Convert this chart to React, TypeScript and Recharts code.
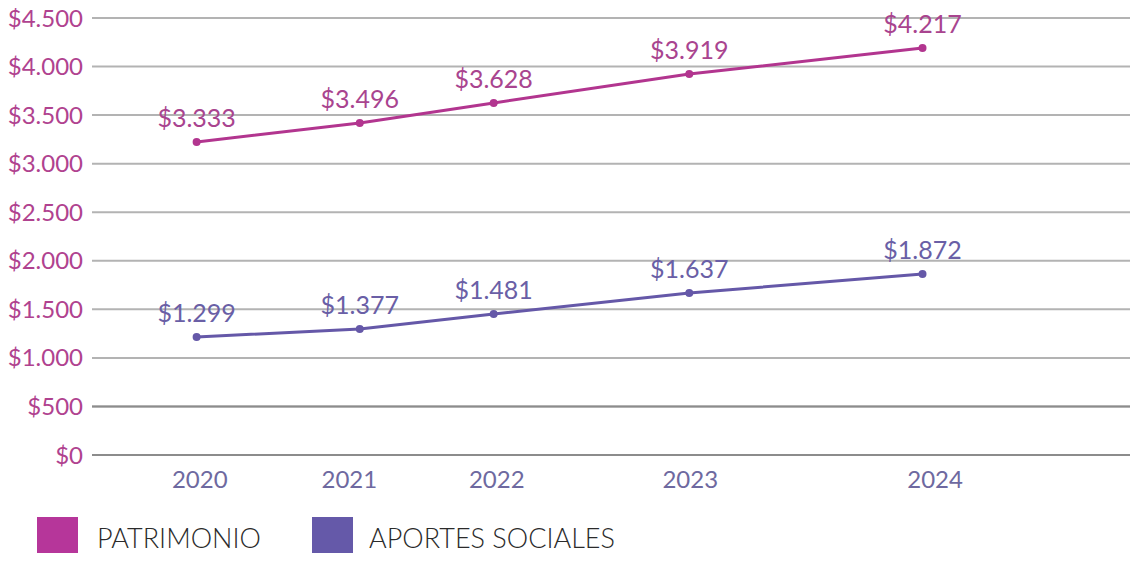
import React from 'react'
import { LineChart, Line, XAxis, YAxis, CartesianGrid, Legend, LabelList, ReferenceLine } from 'recharts'

// years and where each one sits along the axis (percent of plot width)
const years = ['2020', '2021', '2022', '2023', '2024']
const pointPos = [10.0, 25.6, 38.4, 57.1, 79.4]
const tickPos = [10.3, 24.6, 38.7, 57.2, 80.6]

// plotted values and the printed labels
const patrimonio = [3223, 3419, 3625, 3923, 4191]
const aportes = [1215, 1297, 1452, 1668, 1864]
const patrimonioLabels = ['$3.333', '$3.496', '$3.628', '$3.919', '$4.217']
const aportesLabels = ['$1.299', '$1.377', '$1.481', '$1.637', '$1.872']

const yTicks = [0, 500, 1000, 1500, 2000, 2500, 3000, 3500, 4000, 4500]

const MAGENTA = '#b2358f'
const PURPLE = '#6558a8'
const FONT = 'Lato, "Open Sans", sans-serif'

const data = years.map((year, i) => ({
  year,
  pos: pointPos[i],
  patrimonio: patrimonio[i],
  aportes: aportes[i],
}))

const makeLabel = (labels: string[], color: string) => (props: any) => {
  const { x, y, index } = props
  return (
    <text x={x} y={y - 15} textAnchor="middle" fill={color} fontSize={25} fontFamily={FONT}>
      {labels[index]}
    </text>
  )
}

const LegendBox = () => (
  <div style={{ height: 60, position: 'relative', fontFamily: FONT }}>
    {[
      { name: 'PATRIMONIO', color: '#b6369a', left: 37, textLeft: 97 },
      { name: 'APORTES SOCIALES', color: '#6559a9', left: 312, textLeft: 369 },
    ].map((item) => (
      <React.Fragment key={item.name}>
        <div style={{ position: 'absolute', left: item.left, top: 16, width: 41, height: 41, background: item.color }} />
        <div
          style={{
            position: 'absolute',
            left: item.textLeft,
            top: 20,
            fontSize: 27,
            fontWeight: 300,
            color: '#2b2b2b',
            lineHeight: '34px',
            whiteSpace: 'nowrap',
          }}
        >
          {item.name}
        </div>
      </React.Fragment>
    ))}
  </div>
)

export default function App() {
  return (
    <div style={{ margin: -8 }}>
      <LineChart width={1138} height={561} data={data} margin={{ top: 18, right: 0, left: 0, bottom: 0 }}>
        <CartesianGrid vertical={false} stroke="#b3b3b3" strokeWidth={2} />
        <ReferenceLine y={0} stroke="#8c8c8c" strokeWidth={2} />
        <ReferenceLine y={500} stroke="#8c8c8c" strokeWidth={2} />
        <XAxis
          dataKey="pos"
          type="number"
          domain={[0, 100]}
          ticks={tickPos}
          tickFormatter={(_v: number, i: number) => years[i]}
          axisLine={false}
          tickLine={false}
          tickSize={0}
          tickMargin={16}
          height={46}
          tick={{ fill: '#6e69a0', fontSize: 24, fontFamily: FONT }}
        />
        <YAxis
          domain={[0, 4500]}
          ticks={yTicks}
          tickFormatter={(v: number) => '$' + v.toLocaleString('de-DE')}
          axisLine={false}
          tickLine={false}
          tickSize={0}
          tickMargin={9}
          width={92}
          tick={{ fill: '#b0428f', fontSize: 24, fontFamily: FONT }}
        />
        <Legend verticalAlign="bottom" align="left" content={() => <LegendBox />} />
        <Line
          dataKey="patrimonio"
          stroke={MAGENTA}
          strokeWidth={3}
          dot={{ r: 4, fill: MAGENTA, stroke: MAGENTA, strokeWidth: 0 }}
          isAnimationActive={false}
        >
          <LabelList dataKey="patrimonio" content={makeLabel(patrimonioLabels, '#a9448f')} />
        </Line>
        <Line
          dataKey="aportes"
          stroke={PURPLE}
          strokeWidth={3}
          dot={{ r: 4, fill: PURPLE, stroke: PURPLE, strokeWidth: 0 }}
          isAnimationActive={false}
        >
          <LabelList dataKey="aportes" content={makeLabel(aportesLabels, '#6a5fa6')} />
        </Line>
      </LineChart>
    </div>
  )
}
